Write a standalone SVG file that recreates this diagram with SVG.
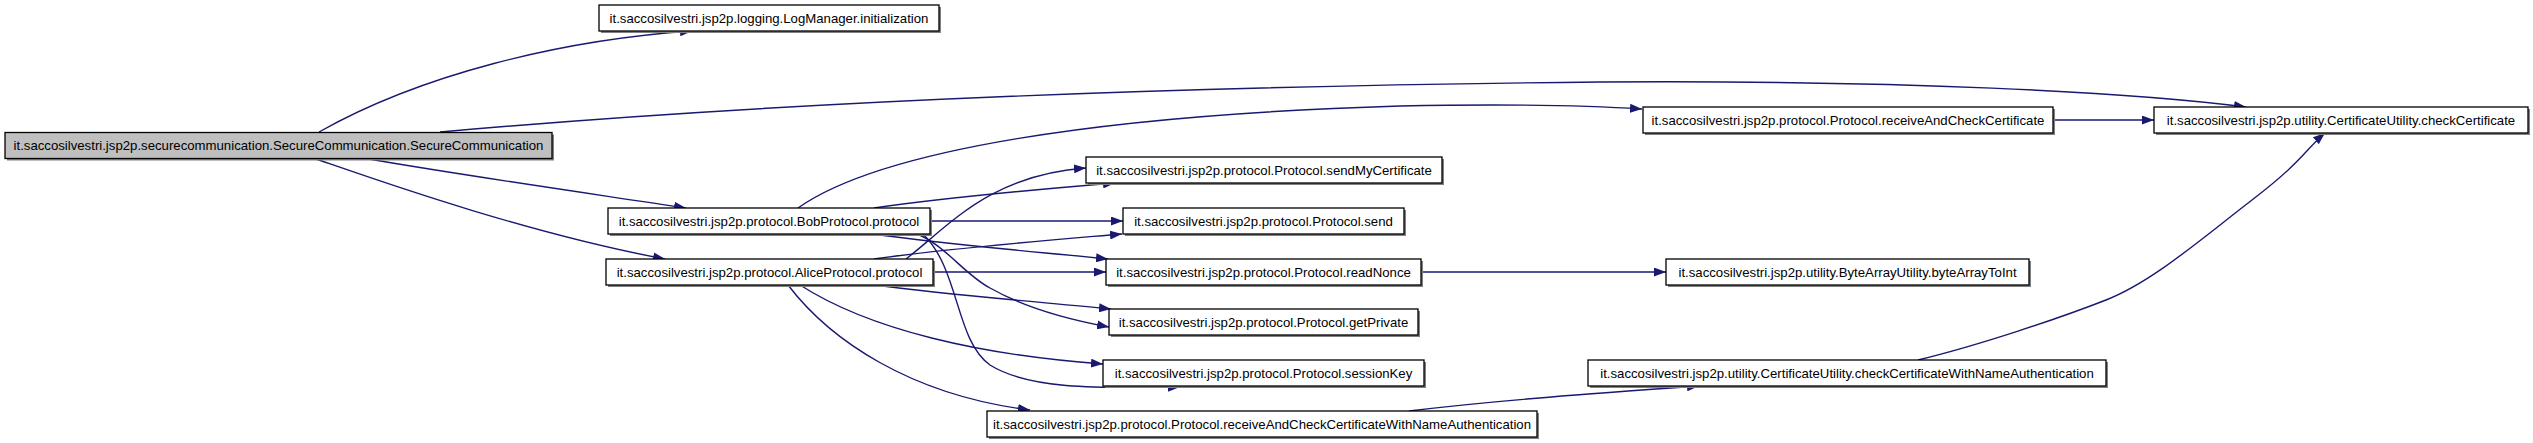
<svg xmlns="http://www.w3.org/2000/svg" width="2533" height="443" viewBox="0 0 2533 443">
<defs>
<style>
.sh{fill:#808080;}
.bx{fill:#ffffff;stroke:#000000;stroke-width:1.3;}
.root{fill:#bfbfbf;stroke:#000000;stroke-width:1.3;}
.t{font-family:"Liberation Sans",Arial,sans-serif;font-size:13.2px;fill:#000000;text-anchor:middle;}
.e{fill:none;stroke:#191970;stroke-width:1.4;marker-end:url(#ah);}
</style>
<marker id="ah" markerWidth="13" markerHeight="9" refX="12" refY="4.5" orient="auto" markerUnits="userSpaceOnUse">
<path d="M0,0 L12,4.5 L0,9 z" fill="#191970"/>
</marker>
</defs>
<rect width="2533" height="443" fill="#ffffff"/>
<g id="connectors">
<path class="e" d="M319,132 C420,75 560,40 692,31"/>
<path class="e" d="M440,132 C800,100 1200,86 1600,82 C1900,80 2130,92 2246,107"/>
<path class="e" d="M363,158 C460,175 580,192 686,208"/>
<path class="e" d="M313,158 C360,174 520,232 665,259"/>
<path class="e" d="M798,208 C880,150 1100,115 1400,106 C1500,104 1580,105 1642,109"/>
<path class="e" d="M874,208 C950,197 1030,190 1115,183"/>
<path class="e" d="M906,259 C950,225 990,175 1086,168"/>
<path class="e" d="M930,221 L1123,221"/>
<path class="e" d="M874,259 C950,248 1040,241 1122,234"/>
<path class="e" d="M873,234 C950,245 1040,252 1108,259"/>
<path class="e" d="M933,272 L1106,272"/>
<path class="e" d="M874,285 C950,295 1040,302 1111,309"/>
<path class="e" d="M917,234 C945,245 965,275 990,288 C1020,305 1060,318 1109,327"/>
<path class="e" d="M800,285 C870,330 980,355 1103,364"/>
<path class="e" d="M923,234 C960,270 955,340 990,365 C1030,390 1100,388 1180,387"/>
<path class="e" d="M788,285 C830,340 910,395 1030,410"/>
<path class="e" d="M2053,120 L2154,120"/>
<path class="e" d="M1421,272 L1666,272"/>
<path class="e" d="M1409,411 C1500,400 1600,393 1699,386"/>
<path class="e" d="M1918,360 C1980,345 2060,318 2106,300 S2200,240 2252,200 S2305,150 2325,133"/>
</g>
<g id="n1"><rect class="sh" x="7" y="134.5" width="547" height="26"/><rect class="root" x="5" y="132.5" width="547" height="26"/><text class="t" x="278.5" y="150">it.saccosilvestri.jsp2p.securecommunication.SecureCommunication.SecureCommunication</text></g>
<g id="n2"><rect class="sh" x="601" y="7" width="340" height="26"/><rect class="bx" x="599" y="5" width="340" height="26"/><text class="t" x="769" y="22.5">it.saccosilvestri.jsp2p.logging.LogManager.initialization</text></g>
<g id="n3"><rect class="sh" x="610" y="210" width="322" height="26"/><rect class="bx" x="608" y="208" width="322" height="26"/><text class="t" x="769" y="225.5">it.saccosilvestri.jsp2p.protocol.BobProtocol.protocol</text></g>
<g id="n4"><rect class="sh" x="608" y="261" width="327" height="26"/><rect class="bx" x="606" y="259" width="327" height="26"/><text class="t" x="769.5" y="276.5">it.saccosilvestri.jsp2p.protocol.AliceProtocol.protocol</text></g>
<g id="n5"><rect class="sh" x="1645" y="109" width="410" height="26"/><rect class="bx" x="1643" y="107" width="410" height="26"/><text class="t" x="1848" y="124.5">it.saccosilvestri.jsp2p.protocol.Protocol.receiveAndCheckCertificate</text></g>
<g id="n6"><rect class="sh" x="2156" y="109" width="374" height="26"/><rect class="bx" x="2154" y="107" width="374" height="26"/><text class="t" x="2341" y="124.5">it.saccosilvestri.jsp2p.utility.CertificateUtility.checkCertificate</text></g>
<g id="n7"><rect class="sh" x="1088" y="159" width="356" height="26"/><rect class="bx" x="1086" y="157" width="356" height="26"/><text class="t" x="1264" y="174.5">it.saccosilvestri.jsp2p.protocol.Protocol.sendMyCertificate</text></g>
<g id="n8"><rect class="sh" x="1125" y="210" width="281" height="26"/><rect class="bx" x="1123" y="208" width="281" height="26"/><text class="t" x="1263.5" y="225.5">it.saccosilvestri.jsp2p.protocol.Protocol.send</text></g>
<g id="n9"><rect class="sh" x="1108" y="261" width="315" height="26"/><rect class="bx" x="1106" y="259" width="315" height="26"/><text class="t" x="1263.5" y="276.5">it.saccosilvestri.jsp2p.protocol.Protocol.readNonce</text></g>
<g id="n10"><rect class="sh" x="1111" y="311" width="309" height="26"/><rect class="bx" x="1109" y="309" width="309" height="26"/><text class="t" x="1263.5" y="326.5">it.saccosilvestri.jsp2p.protocol.Protocol.getPrivate</text></g>
<g id="n11"><rect class="sh" x="1105" y="362" width="321" height="26"/><rect class="bx" x="1103" y="360" width="321" height="26"/><text class="t" x="1263.5" y="377.5">it.saccosilvestri.jsp2p.protocol.Protocol.sessionKey</text></g>
<g id="n12"><rect class="sh" x="989" y="413" width="550" height="26"/><rect class="bx" x="987" y="411" width="550" height="26"/><text class="t" x="1262" y="428.5">it.saccosilvestri.jsp2p.protocol.Protocol.receiveAndCheckCertificateWithNameAuthentication</text></g>
<g id="n13"><rect class="sh" x="1668" y="261" width="363" height="26"/><rect class="bx" x="1666" y="259" width="363" height="26"/><text class="t" x="1847.5" y="276.5">it.saccosilvestri.jsp2p.utility.ByteArrayUtility.byteArrayToInt</text></g>
<g id="n14"><rect class="sh" x="1590" y="362" width="518" height="26"/><rect class="bx" x="1588" y="360" width="518" height="26"/><text class="t" x="1847" y="377.5">it.saccosilvestri.jsp2p.utility.CertificateUtility.checkCertificateWithNameAuthentication</text></g>
</svg>
